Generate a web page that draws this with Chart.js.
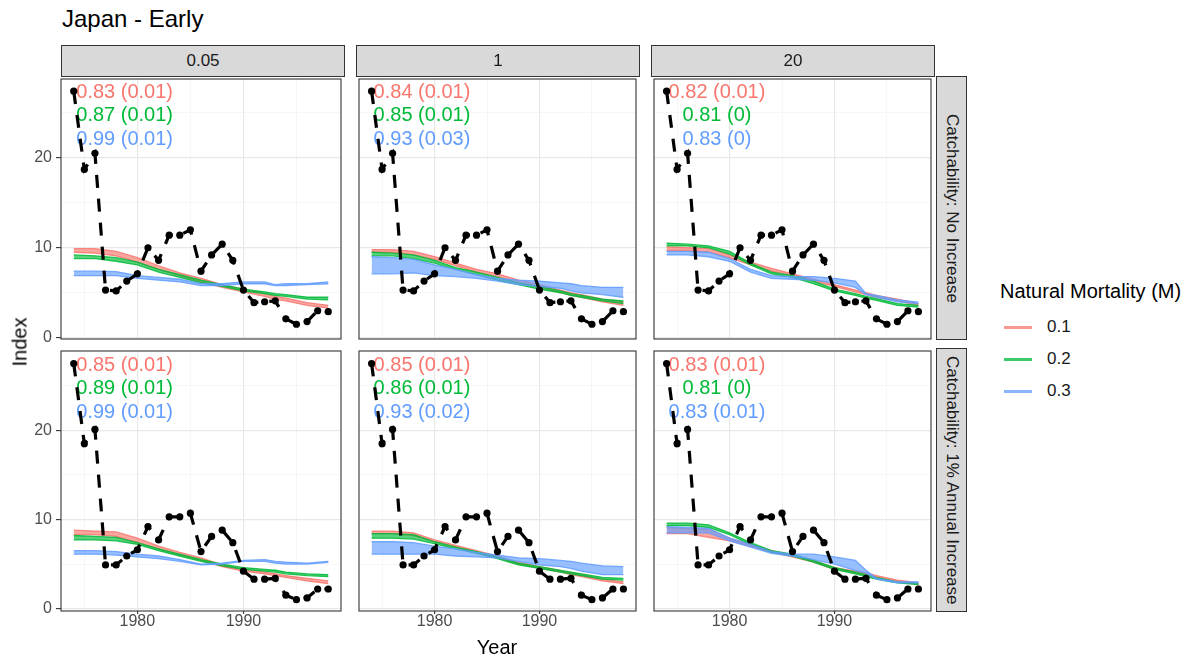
<!DOCTYPE html>
<html>
<head>
<meta charset="utf-8">
<script src="https://cdn.jsdelivr.net/npm/chart.js@4"></script>
<style>
  body { margin: 0; background: #fff; font-family: "Liberation Sans", Arial, sans-serif; }
  #wrap { position: relative; width: 1190px; height: 661px; overflow: hidden; }
  #wrap canvas { position: absolute; }
  .strip { position: absolute; background: #d9d9d9; border: 1px solid #333; box-sizing: border-box;
           color: #1a1a1a; font-size: 17px; display: flex; align-items: center; justify-content: center; }
  .strip.v span { writing-mode: vertical-rl; }
  .txt { position: absolute; white-space: nowrap; }
</style>
</head>
<body>
<div id="wrap"></div>
<script>
// observed index (black dashed line)
const years = [1974,1975,1976,1977,1978,1979,1980,1981,1982,1983,1984,1985,1986,1987,1988,1989,1990,1991,1992,1993,1994,1995,1996,1997,1998];
const obsNoIncrease = [27.4,18.7,20.5,5.3,5.2,6.3,7.1,10.0,8.6,11.4,11.4,12.0,7.4,9.2,10.4,8.6,5.3,3.9,4.0,4.1,2.1,1.5,1.8,3.0,2.9];
const obsAnnualIncrease = [27.5,18.5,20.1,4.9,4.9,5.9,6.6,9.2,7.7,10.3,10.3,10.7,6.4,8.1,8.8,7.4,4.2,3.3,3.3,3.4,1.5,1.0,1.2,2.2,2.2];

// model fits, sampled years
const modelYears = [1974,1976,1978,1980,1982,1984,1986,1988,1990,1992,1993,1994,1996,1998];

// facet labels
const qLabels = ['0.05', '1', '20'];
const rowLabels = ['Catchability: No Increase', 'Catchability: 1% Annual Increase'];
const mLabels = ['0.1', '0.2', '0.3'];
const mColors = ['#F8766D', '#00BA38', '#619CFF'];

// axis ticks
const xTicks = [1975, 1980, 1985, 1990, 1995];
const xLabelled = [1980, 1990];
const yTicks = [0, 5, 10, 15, 20, 25];
const yLabelled = [0, 10, 20];

// fit statistics text per panel (M = 0.1, 0.2, 0.3)
const fitNo005 = ['0.83 (0.01)', '0.87 (0.01)', '0.99 (0.01)'];
const fitNo1   = ['0.84 (0.01)', '0.85 (0.01)', '0.93 (0.03)'];
const fitNo20  = ['0.82 (0.01)', '0.81 (0)', '0.83 (0)'];
const fitInc005 = ['0.85 (0.01)', '0.89 (0.01)', '0.99 (0.01)'];
const fitInc1   = ['0.85 (0.01)', '0.86 (0.01)', '0.93 (0.02)'];
const fitInc20  = ['0.83 (0.01)', '0.81 (0)', '0.83 (0.01)'];
const fitTextX = 1978.8;
const fitTextY = [27.3, 24.7, 22.0];

// model bands (upper / lower edge of the replicate lines)
// no increase, q = 0.05
const redNo005Hi   = [9.9,9.9,9.6,8.9,8.0,7.2,6.6,5.9,5.4,4.9,4.6,4.4,3.9,3.6];
const redNo005Lo   = [9.5,9.4,9.1,8.4,7.6,6.9,6.2,5.6,5.1,4.6,4.3,4.1,3.6,3.3];
const greenNo005Hi = [9.2,9.1,8.9,8.4,7.6,7.0,6.4,5.9,5.4,5.1,4.9,4.8,4.5,4.5];
const greenNo005Lo = [8.8,8.8,8.5,8.1,7.3,6.7,6.1,5.7,5.2,4.9,4.7,4.6,4.3,4.2];
const blueNo005Hi  = [7.4,7.4,7.35,6.9,6.7,6.5,6.0,6.0,6.2,6.2,5.9,6.0,6.0,6.2];
const blueNo005Lo  = [6.9,6.9,6.9,6.6,6.4,6.2,5.8,5.8,6.0,6.0,5.8,5.8,5.9,6.0];
// no increase, q = 1
const redNo1Hi   = [9.8,9.8,9.6,9.0,8.3,7.6,7.1,6.4,5.9,5.3,5.0,4.8,4.3,4.0];
const redNo1Lo   = [9.5,9.5,9.2,8.7,8.0,7.3,6.8,6.1,5.6,5.0,4.7,4.5,4.0,3.6];
const greenNo1Hi = [9.5,9.4,9.2,8.6,7.8,7.3,6.7,6.1,5.7,5.2,4.9,4.7,4.3,4.1];
const greenNo1Lo = [9.1,9.1,8.8,8.3,7.6,7.0,6.4,5.9,5.4,5.0,4.7,4.5,4.1,3.8];
const blueNo1Hi  = [9.0,8.9,8.7,8.1,7.6,7.0,6.6,6.4,6.3,6.1,6.0,5.8,5.6,5.6];
const blueNo1Lo  = [7.1,7.1,7.2,6.9,6.8,6.6,6.3,5.9,5.7,5.5,5.2,5.0,4.8,4.5];
// no increase, q = 20
const redNo20Hi   = [10.1,10.0,9.9,9.2,8.4,7.7,7.1,6.5,5.9,5.3,5.0,4.7,4.3,3.8];
const redNo20Lo   = [9.7,9.7,9.5,8.9,8.1,7.4,6.9,6.3,5.7,5.1,4.8,4.5,4.1,3.6];
const greenNo20Hi = [10.5,10.4,10.2,9.6,8.3,7.3,6.9,6.3,5.4,4.9,4.6,4.35,3.8,3.6];
const greenNo20Lo = [10.2,10.2,10.0,9.3,8.1,7.1,6.7,6.0,5.2,4.7,4.4,4.15,3.6,3.4];
const blueNo20Hi  = [9.6,9.6,9.5,8.8,7.6,6.9,6.8,6.8,6.6,6.3,4.9,4.7,4.2,3.95];
const blueNo20Lo  = [9.2,9.2,9.0,8.5,7.3,6.6,6.5,6.4,6.1,5.6,4.8,4.5,4.0,3.8];
// 1% annual increase, q = 0.05
const redInc005Hi   = [8.8,8.7,8.6,7.9,7.0,6.3,5.7,4.9,4.4,4.1,3.9,3.7,3.4,3.1];
const redInc005Lo   = [8.3,8.3,8.1,7.4,6.7,6.0,5.4,4.7,4.2,3.9,3.7,3.5,3.1,2.8];
const greenInc005Hi = [8.2,8.1,8.0,7.4,6.7,6.1,5.5,5.0,4.6,4.4,4.3,4.1,3.9,3.8];
const greenInc005Lo = [7.7,7.7,7.6,7.2,6.5,5.9,5.3,4.8,4.4,4.2,4.1,3.9,3.7,3.6];
const blueInc005Hi  = [6.5,6.5,6.4,6.1,5.9,5.5,5.0,5.1,5.4,5.5,5.3,5.2,5.1,5.3];
const blueInc005Lo  = [6.1,6.1,6.0,5.8,5.6,5.3,4.9,5.0,5.3,5.3,5.1,5.0,5.0,5.2];
// 1% annual increase, q = 1
const redInc1Hi   = [8.7,8.7,8.5,7.7,7.1,6.5,5.9,5.2,4.7,4.3,4.0,3.8,3.3,3.0];
const redInc1Lo   = [8.4,8.4,8.2,7.5,6.9,6.3,5.7,5.0,4.5,4.1,3.8,3.6,3.1,2.8];
const greenInc1Hi = [8.4,8.4,8.3,7.5,6.9,6.4,5.8,5.1,4.7,4.3,4.1,3.9,3.5,3.4];
const greenInc1Lo = [7.9,7.9,7.8,7.3,6.7,6.2,5.6,4.9,4.5,4.1,3.9,3.7,3.3,3.2];
const blueInc1Hi  = [7.5,7.5,7.4,7.0,6.7,6.3,6.0,5.7,5.6,5.4,5.3,5.1,4.8,4.7];
const blueInc1Lo  = [6.1,6.1,6.1,6.1,5.9,5.8,5.7,5.3,4.9,4.7,4.5,4.2,3.8,3.8];
// 1% annual increase, q = 20
const redInc20Hi   = [9.1,9.0,8.9,7.9,7.2,6.5,6.0,5.4,4.6,4.2,4.0,3.7,3.2,2.9];
const redInc20Lo   = [8.4,8.4,8.0,7.6,7.0,6.3,5.8,5.2,4.4,4.0,3.8,3.5,3.0,2.7];
const greenInc20Hi = [9.6,9.6,9.4,8.5,7.4,6.5,6.1,5.4,4.6,4.1,3.8,3.5,3.0,2.8];
const greenInc20Lo = [9.3,9.3,9.1,8.3,7.2,6.3,5.9,5.2,4.4,3.9,3.6,3.3,2.9,2.7];
const blueInc20Hi  = [9.2,9.1,9.0,7.9,7.2,6.4,6.1,6.1,5.8,5.4,4.3,3.4,3.0,3.0];
const blueInc20Lo  = [8.5,8.5,8.5,7.6,6.9,6.2,5.9,5.5,5.0,4.3,4.0,3.3,2.9,2.9];

const panels = [
  {r:0, c:0, obs:obsNoIncrease, fit:fitNo005, bands:[[redNo005Hi,redNo005Lo],[greenNo005Hi,greenNo005Lo],[blueNo005Hi,blueNo005Lo]]},
  {r:0, c:1, obs:obsNoIncrease, fit:fitNo1,   bands:[[redNo1Hi,redNo1Lo],[greenNo1Hi,greenNo1Lo],[blueNo1Hi,blueNo1Lo]]},
  {r:0, c:2, obs:obsNoIncrease, fit:fitNo20,  bands:[[redNo20Hi,redNo20Lo],[greenNo20Hi,greenNo20Lo],[blueNo20Hi,blueNo20Lo]]},
  {r:1, c:0, obs:obsAnnualIncrease, fit:fitInc005, bands:[[redInc005Hi,redInc005Lo],[greenInc005Hi,greenInc005Lo],[blueInc005Hi,blueInc005Lo]]},
  {r:1, c:1, obs:obsAnnualIncrease, fit:fitInc1,   bands:[[redInc1Hi,redInc1Lo],[greenInc1Hi,greenInc1Lo],[blueInc1Hi,blueInc1Lo]]},
  {r:1, c:2, obs:obsAnnualIncrease, fit:fitInc20,  bands:[[redInc20Hi,redInc20Lo],[greenInc20Hi,greenInc20Lo],[blueInc20Hi,blueInc20Lo]]}
];

// layout
const panelLeft = [61, 356, 651], panelTop = [76, 348], panelW = 283, panelH = 263;
const xRange = [1972.8, 1999.2];
const yRange = [[-0.14, 28.75], [-0.27, 28.9]];

Chart.defaults.font.family = '"Liberation Sans", Arial, sans-serif';
const wrap = document.getElementById('wrap');

function pts(xs, ys) { return xs.map((x, i) => ({x: x, y: ys[i]})); }
function alpha(hex, a) {
  const n = parseInt(hex.slice(1), 16);
  return 'rgba(' + (n >> 16) + ',' + ((n >> 8) & 255) + ',' + (n & 255) + ',' + a + ')';
}
function addText(txt, css) {
  const d = document.createElement('div');
  d.className = 'txt';
  d.textContent = txt;
  Object.assign(d.style, css);
  wrap.appendChild(d);
  return d;
}

const panelDeco = {
  id: 'panelDeco',
  beforeDatasetsDraw(chart, args, opts) {
    const ctx = chart.ctx, x = chart.scales.x, y = chart.scales.y;
    ctx.save();
    ctx.font = '20px "Liberation Sans", Arial, sans-serif';
    ctx.textAlign = 'center';
    ctx.textBaseline = 'middle';
    opts.texts.forEach((t, i) => {
      ctx.fillStyle = mColors[i];
      ctx.fillText(t, x.getPixelForValue(fitTextX), y.getPixelForValue(fitTextY[i]));
    });
    ctx.restore();
  },
  afterDraw(chart) {
    const a = chart.chartArea, ctx = chart.ctx;
    ctx.save();
    ctx.strokeStyle = '#333';
    ctx.lineWidth = 1.1;
    ctx.strokeRect(a.left, a.top, a.right - a.left, a.bottom - a.top);
    ctx.restore();
  }
};

panels.forEach(p => {
  const yW = p.c === 0 ? 61 : 1, xH = p.r === 1 ? 40 : 12, padT = 1, padR = 1;
  const cv = document.createElement('canvas');
  cv.width = yW + panelW + padR;
  cv.height = padT + panelH + xH;
  cv.style.left = (panelLeft[p.c] - yW) + 'px';
  cv.style.top = (panelTop[p.r] - padT) + 'px';
  wrap.appendChild(cv);

  const ds = [{
    data: pts(years, p.obs), borderColor: '#000', borderWidth: 3.2, borderDash: [13, 11],
    pointRadius: 3.6, pointBackgroundColor: '#000', pointBorderWidth: 0, fill: false
  }];
  [2, 1, 0].forEach(k => {
    const col = mColors[k];
    ds.push({data: pts(modelYears, p.bands[k][0]), borderColor: alpha(col, 0.85), borderWidth: 1.3, pointRadius: 0, fill: false});
    ds.push({data: pts(modelYears, p.bands[k][1]), borderColor: alpha(col, 0.85), borderWidth: 1.3, pointRadius: 0,
             fill: '-1', backgroundColor: alpha(col, 0.65)});
  });

  new Chart(cv, {
    type: 'line',
    data: {datasets: ds},
    options: {
      responsive: false, animation: false, events: [],
      layout: {padding: {top: padT, right: padR, left: 0, bottom: 0}},
      plugins: {legend: {display: false}, tooltip: {enabled: false}, panelDeco: {texts: p.fit}},
      scales: {
        x: {
          type: 'linear', min: xRange[0], max: xRange[1],
          afterBuildTicks: s => { s.ticks = xTicks.map(v => ({value: v})); },
          afterFit: s => { s.height = xH; s.paddingLeft = 0; s.paddingRight = 0; },
          ticks: {display: p.r === 1, autoSkip: false, maxRotation: 0, padding: 0, color: '#4d4d4d',
                  font: {size: 16, lineHeight: 1},
                  callback: v => xLabelled.includes(v) ? String(v) : ''},
          grid: {drawTicks: p.r === 1, tickLength: 3, tickWidth: 1.1,
                 tickColor: c => xLabelled.includes(c.tick.value) ? '#333' : 'rgba(0,0,0,0)',
                 color: c => xLabelled.includes(c.tick.value) ? '#e8e8e8' : '#f2f2f2',
                 lineWidth: c => xLabelled.includes(c.tick.value) ? 1.2 : 0.7},
          border: {display: false}
        },
        y: {
          type: 'linear', min: yRange[p.r][0], max: yRange[p.r][1],
          afterBuildTicks: s => { s.ticks = yTicks.map(v => ({value: v})); },
          afterFit: s => { s.width = yW; s.paddingTop = 0; s.paddingBottom = 0; },
          ticks: {display: p.c === 0, autoSkip: false, padding: 4, color: '#4d4d4d', font: {size: 16},
                  callback: v => yLabelled.includes(v) ? String(v) : ''},
          grid: {drawTicks: p.c === 0, tickLength: 5, tickWidth: 1.1,
                 tickColor: c => yLabelled.includes(c.tick.value) ? '#333' : 'rgba(0,0,0,0)',
                 color: c => yLabelled.includes(c.tick.value) ? '#e8e8e8' : '#f2f2f2',
                 lineWidth: c => yLabelled.includes(c.tick.value) ? 1.2 : 0.7},
          border: {display: false}
        }
      }
    },
    plugins: [panelDeco]
  });
});

// facet strips
qLabels.forEach((q, c) => {
  const s = document.createElement('div');
  s.className = 'strip';
  Object.assign(s.style, {left: panelLeft[c] + 'px', top: '45px', width: (panelW + 1) + 'px', height: '32px'});
  s.textContent = q;
  wrap.appendChild(s);
});
rowLabels.forEach((t, r) => {
  const s = document.createElement('div');
  s.className = 'strip v';
  Object.assign(s.style, {left: '936px', top: panelTop[r] + 'px', width: '31px', height: (panelH + 1) + 'px'});
  const sp = document.createElement('span');
  sp.textContent = t;
  s.appendChild(sp);
  wrap.appendChild(s);
});

// title and axis titles
addText('Japan - Early', {left: '62px', top: '5px', fontSize: '24px', color: '#000'});
addText('Year', {left: '497px', top: '636px', fontSize: '20px', color: '#000', transform: 'translateX(-50%)'});
addText('Index', {left: '20px', top: '342px', fontSize: '20px', color: '#000', transform: 'translate(-50%,-50%) rotate(-90deg)'});

// legend
addText('Natural Mortality (M)', {left: '1000px', top: '280px', fontSize: '20px', color: '#000'});
mLabels.forEach((m, i) => {
  const yc = 327 + i * 32;
  const ln = document.createElement('div');
  Object.assign(ln.style, {position: 'absolute', left: '1004px', top: (yc - 1) + 'px', width: '28px', height: '2.5px', background: alpha(mColors[i], 0.75)});
  wrap.appendChild(ln);
  addText(m, {left: '1047px', top: (yc - 10) + 'px', fontSize: '17px', color: '#1a1a1a'});
});
</script>
</body>
</html>
